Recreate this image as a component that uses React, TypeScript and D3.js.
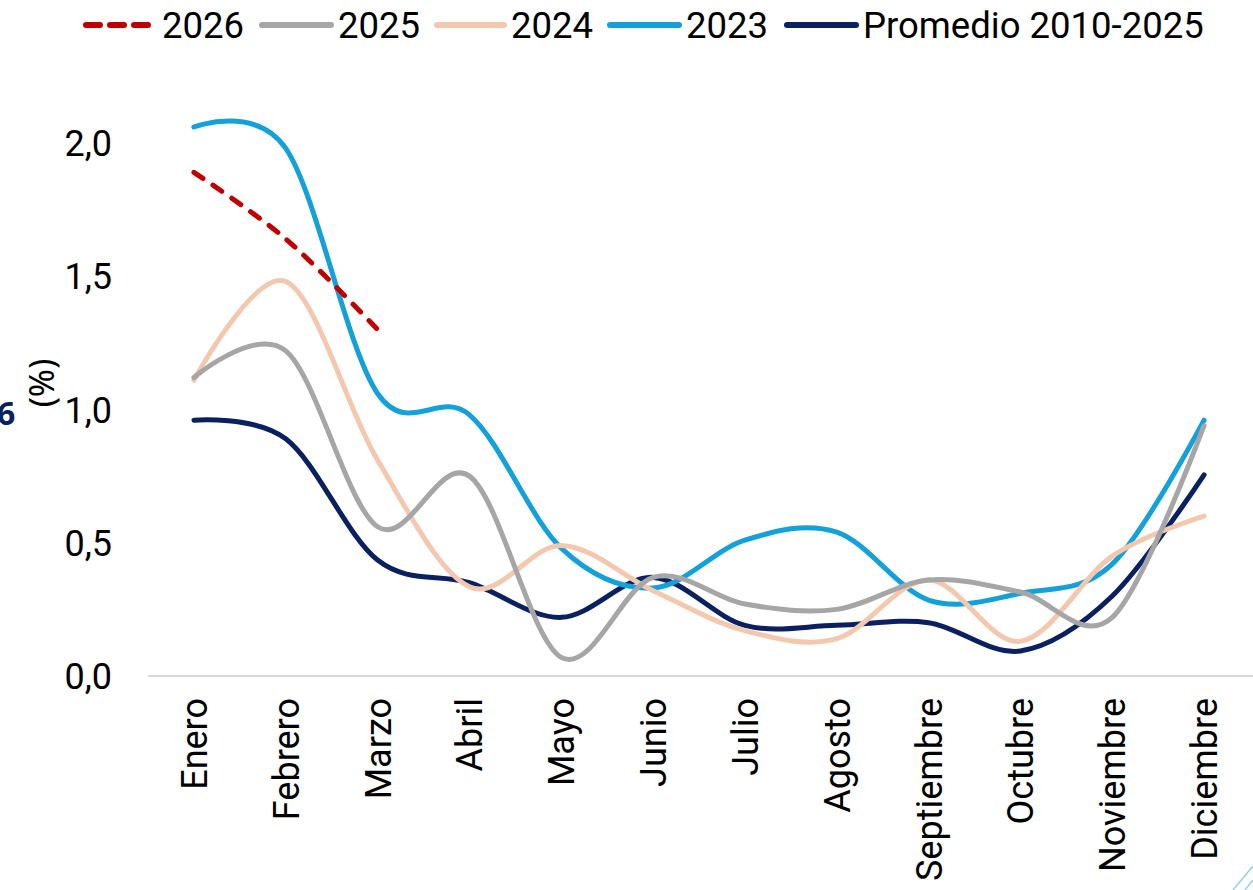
import React from 'react'
import * as d3 from 'd3'

const months = ['Enero', 'Febrero', 'Marzo', 'Abril', 'Mayo', 'Junio', 'Julio', 'Agosto', 'Septiembre', 'Octubre', 'Noviembre', 'Diciembre']

const v2026 = [1.89, 1.64, 1.30]
const v2025 = [1.12, 1.22, 0.56, 0.75, 0.07, 0.37, 0.27, 0.25, 0.36, 0.315, 0.22, 0.94]
const v2024 = [1.11, 1.48, 0.81, 0.335, 0.49, 0.32, 0.17, 0.14, 0.36, 0.13, 0.45, 0.60]
const v2023 = [2.06, 1.98, 1.06, 0.98, 0.48, 0.33, 0.51, 0.54, 0.285, 0.31, 0.42, 0.96]
const promedio = [0.96, 0.89, 0.435, 0.35, 0.22, 0.37, 0.19, 0.19, 0.20, 0.094, 0.30, 0.755]

const yTicks = [0, 0.5, 1.0, 1.5, 2.0]

const W = 1253
const H = 890
const FONT = 'Roboto, sans-serif'

const series = [
  { name: 'Promedio 2010-2025', values: promedio, color: '#0B2060', dash: null },
  { name: '2023', values: v2023, color: '#14A0D8', dash: null },
  { name: '2024', values: v2024, color: '#F4C8AF', dash: null },
  { name: '2025', values: v2025, color: '#A6A6A6', dash: null },
  { name: '2026', values: v2026, color: '#C00000', dash: '11 12' },
]

const legend = [
  { name: '2026', color: '#C00000', dash: true, x0: 86, x1: 151, tx: 162 },
  { name: '2025', color: '#A6A6A6', dash: false, x0: 262, x1: 331, tx: 338 },
  { name: '2024', color: '#F4C8AF', dash: false, x0: 437, x1: 504, tx: 511 },
  { name: '2023', color: '#14A0D8', dash: false, x0: 610, x1: 679, tx: 686 },
  { name: 'Promedio 2010-2025', color: '#0B2060', dash: false, x0: 787, x1: 856, tx: 863 },
]

export default function App() {
  const x = d3.scaleBand<string>().domain(months).range([148, 1250])
  const y = d3.scaleLinear().domain([0, 2]).range([676, 143])
  const cx = (m: string) => (x(m) as number) + x.bandwidth() / 2

  const line = d3.line<number>()
    .x((_, i) => cx(months[i]))
    .y(d => y(d))
    .curve(d3.curveCardinal.tension(0))

  return (
    <svg width={W} height={H} style={{ position: 'absolute', left: 0, top: 0, background: '#fff' }}>
      {/* corner decoration */}
      <line x1={1233} y1={890} x2={1253} y2={866} stroke="#8fd3f0" strokeWidth={1.5} />
      <line x1={1245} y1={890} x2={1253} y2={880} stroke="#8fd3f0" strokeWidth={1.5} />

      {/* legend */}
      {legend.map(l => (
        <g key={l.name}>
          <line x1={l.x0} x2={l.x1} y1={25} y2={25} stroke={l.color} strokeWidth={6}
            strokeLinecap="round" strokeDasharray={l.dash ? '14 10' : undefined} />
          <text x={l.tx} y={38} fontFamily={FONT} fontSize={36.5} fill="#000">{l.name}</text>
        </g>
      ))}

      {/* y axis labels */}
      {yTicks.map(t => (
        <text key={t} x={112} y={y(t) + 13} textAnchor="end" fontFamily={FONT} fontSize={36} fill="#000">
          {d3.format('.1f')(t).replace('.', ',')}
        </text>
      ))}
      <text transform="translate(54,383) rotate(-90)" textAnchor="middle" fontFamily="'Noto Sans', sans-serif"
        fontSize={34} fill="#000">(%)</text>
      <text x={-3} y={425} fontFamily="'Noto Sans', sans-serif" fontWeight="bold" fontSize={32} fill="#0B2060">6</text>

      {/* x axis */}
      <line x1={148} x2={1253} y1={676} y2={676} stroke="#D9D9D9" strokeWidth={2} />
      {months.map(m => (
        <text key={m} transform={`translate(${cx(m) + 13},698) rotate(-90)`} textAnchor="end"
          fontFamily={FONT} fontSize={36} fill="#000">{m}</text>
      ))}

      {/* lines */}
      {series.map(s => (
        <path key={s.name} d={line(s.values) || ''} fill="none" stroke={s.color} strokeWidth={5}
          strokeLinecap="round" strokeDasharray={s.dash || undefined} />
      ))}
    </svg>
  )
}
